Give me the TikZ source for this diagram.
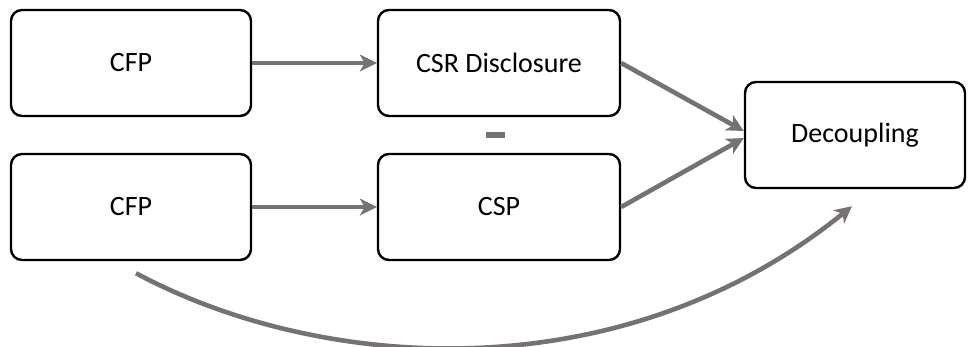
\documentclass[tikz,border=0pt]{standalone}
\usepackage{xcolor}
\usepackage{fontspec}
\setmainfont{Carlito}
\usepackage{tikz}
\usetikzlibrary{arrows.meta}

\definecolor{arrowgray}{RGB}{118,114,113}

\tikzset{
  box/.style = {draw = black, line width = 2.4pt, rounded corners = 11pt,
                minimum width = 240pt, minimum height = 106pt, inner sep = 0pt,
                font = \fontsize{28}{33}\selectfont},
  link/.style = {draw = arrowgray, line width = 4.6pt,
                 -{Stealth[length = 17pt, width = 17pt, inset = 5pt]}}
}

\begin{document}
\begin{tikzpicture}[x = 1pt, y = -1pt]
\useasboundingbox (0,0) rectangle (975,346);

\node[box] (cfpa) at (131,63) {CFP};
\node[box, minimum width = 242pt] (csr) at (499,63) {CSR Disclosure};
\node[box] (cfpb) at (131,207) {CFP};
\node[box, minimum width = 242pt] (csp) at (499,207) {CSP};
\node[box, minimum width = 220pt] (dec) at (855,135) {Decoupling};

% the minus between the two middle boxes
\node[fill = arrowgray, minimum width = 19pt, minimum height = 6pt, inner sep = 0pt] (minus) at (495.5,135) {};

\draw[link] (cfpa) -- (csr);
\draw[link] (cfpb) -- (csp);
\draw[link] (csr.east) -- ([yshift = 4pt]dec.west);
\draw[link] (csp.east) -- ([yshift = -3pt]dec.west);

\coordinate (cstart) at ([xshift = 5pt, yshift = -12pt]cfpb.south);
\coordinate (cend) at ([xshift = -3pt, yshift = -17pt]dec.south);
\draw[link] (cstart) .. controls (320,372) and (620,394) .. (cend);
\end{tikzpicture}
\end{document}
